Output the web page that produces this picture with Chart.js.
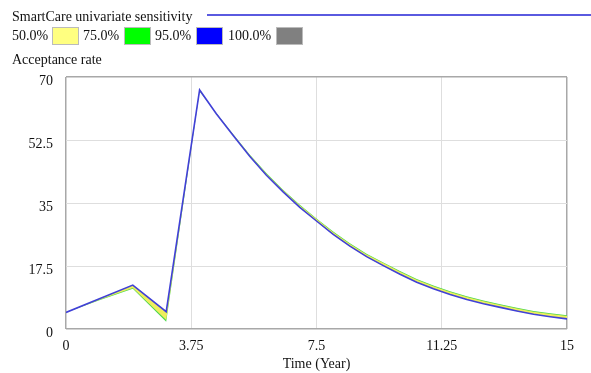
<!DOCTYPE html>
<html>
<head>
<meta charset="utf-8">
<script src="https://cdn.jsdelivr.net/npm/chart.js@4.4.1/dist/chart.umd.min.js"></script>
<style>
  html, body { margin: 0; padding: 0; background: #fff; }
  body { width: 591px; height: 373px; position: relative; overflow: hidden;
         font-family: "Liberation Serif", "Times New Roman", serif; color: #111; }
  #wrap { position: absolute; left: 0; top: 0; width: 591px; height: 373px; }
  .txt { position: absolute; font-size: 14px; white-space: nowrap; line-height: 16px; }
  .sw { position: absolute; width: 27px; height: 18px; box-sizing: border-box; border: 1px solid #bbb; }
  #runLine { position: absolute; left: 207px; top: 14px; width: 384px; height: 2px; background: #5a5ae0; }
</style>
</head>
<body>
<div id="wrap"><canvas id="chart" width="591" height="373"></canvas></div>

<div class="txt" style="left:12px; top:9px;">SmartCare univariate sensitivity</div>
<div id="runLine"></div>
<div class="txt" style="left:12px; top:28px;">50.0%</div>
<div class="sw" style="left:52px; top:27px; background:#ffff80;"></div>
<div class="txt" style="left:83px; top:28px;">75.0%</div>
<div class="sw" style="left:124px; top:27px; background:#00ff00;"></div>
<div class="txt" style="left:155px; top:28px;">95.0%</div>
<div class="sw" style="left:196px; top:27px; background:#0000ff;"></div>
<div class="txt" style="left:228px; top:28px;">100.0%</div>
<div class="sw" style="left:276px; top:27px; background:#808080;"></div>
<div class="txt" style="left:12px; top:52px;">Acceptance rate</div>

<script>
// time axis (years) and acceptance rate series
const years = [0, 1, 2, 3, 4, 4.5, 5, 5.5, 6, 6.5, 7, 7.5, 8, 8.5, 9, 9.5,
               10, 10.5, 11, 11.5, 12, 12.5, 13, 13.5, 14, 14.5, 15];
// base run (blue line)
const baseRun = [4.6, 8.4, 12.2, 4.8, 66.4, 59.8, 53.8, 48.0, 42.7, 38.1, 33.8, 30.0, 26.3, 23.0, 20.1, 17.6,
                 15.2, 13.0, 11.2, 9.6, 8.2, 7.0, 6.0, 5.0, 4.1, 3.4, 2.8];
// outer edge of the 75% band
const edge75 = [4.6, 8.0, 11.2, 2.0, 66.0, 60.0, 54.2, 48.5, 43.3, 38.7, 34.5, 30.7, 27.1, 23.8, 20.9, 18.5,
                16.1, 13.9, 12.1, 10.5, 9.1, 7.9, 6.9, 5.9, 5.0, 4.4, 3.8];
// outer edge of the 50% band
const edge50 = [4.6, 8.1, 11.4, 2.5, 66.1, 59.9, 54.1, 48.35, 43.1, 38.55, 34.3, 30.55, 26.9, 23.6, 20.7, 18.3,
                15.9, 13.7, 11.9, 10.3, 8.9, 7.7, 6.7, 5.7, 4.8, 4.2, 3.6];

const xTicks = [0, 3.75, 7.5, 11.25, 15];
const yTicks = [0, 17.5, 35, 52.5, 70];

const toPoints = arr => years.map((t, i) => ({ x: t, y: arr[i] }));

const boxColor = '#a8a8a8';
const gridColor = '#dedede';
const serif = { family: '"Liberation Serif", "Times New Roman", serif', size: 14 };

new Chart(document.getElementById('chart'), {
    type: 'line',
    data: {
        datasets: [
            {
                label: '75.0%',
                data: toPoints(edge75),
                borderWidth: 0,
                borderColor: 'rgba(0,0,0,0)',
                backgroundColor: '#4cd84c',
                pointRadius: 0,
                fill: { target: 2 },
                order: 3
            },
            {
                label: '50.0%',
                data: toPoints(edge50),
                borderWidth: 0,
                borderColor: 'rgba(0,0,0,0)',
                backgroundColor: '#eeee5e',
                pointRadius: 0,
                fill: { target: 2 },
                order: 2
            },
            {
                label: 'SmartCare',
                data: toPoints(baseRun),
                borderColor: '#4040d8',
                borderWidth: 1.6,
                pointRadius: 0,
                fill: false,
                order: 1
            }
        ]
    },
    options: {
        responsive: false,
        animation: false,
        layout: { padding: { left: 0, top: 77, right: 24, bottom: 0 } },
        plugins: {
            legend: { display: false },
            tooltip: { enabled: false }
        },
        scales: {
            x: {
                type: 'linear',
                min: 0,
                max: 15,
                afterBuildTicks: scale => { scale.ticks = xTicks.map(v => ({ value: v })); },
                afterFit: scale => { scale.height = 373 - 329; },
                border: { display: false },
                grid: {
                    drawTicks: false,
                    color: ctx => (ctx.tick.value === 0 || ctx.tick.value === 15) ? boxColor : gridColor,
                    lineWidth: ctx => (ctx.tick.value === 0 || ctx.tick.value === 15) ? 1.5 : 1
                },
                ticks: {
                    color: '#111',
                    font: serif,
                    padding: 9,
                    maxRotation: 0,
                    callback: v => String(v)
                },
                title: {
                    display: true,
                    text: 'Time (Year)',
                    color: '#111',
                    font: serif,
                    padding: { top: 0, bottom: 0 }
                }
            },
            y: {
                min: 0,
                max: 70,
                afterBuildTicks: scale => { scale.ticks = yTicks.map(v => ({ value: v })); },
                afterFit: scale => { scale.width = 66; },
                border: { display: false },
                grid: {
                    drawTicks: false,
                    color: ctx => (ctx.tick.value === 0 || ctx.tick.value === 70) ? boxColor : gridColor,
                    lineWidth: ctx => (ctx.tick.value === 0 || ctx.tick.value === 70) ? 1.5 : 1
                },
                ticks: {
                    color: '#111',
                    font: serif,
                    padding: 13,
                    labelOffset: 4,
                    callback: v => String(v)
                }
            }
        }
    }
});
</script>
</body>
</html>
